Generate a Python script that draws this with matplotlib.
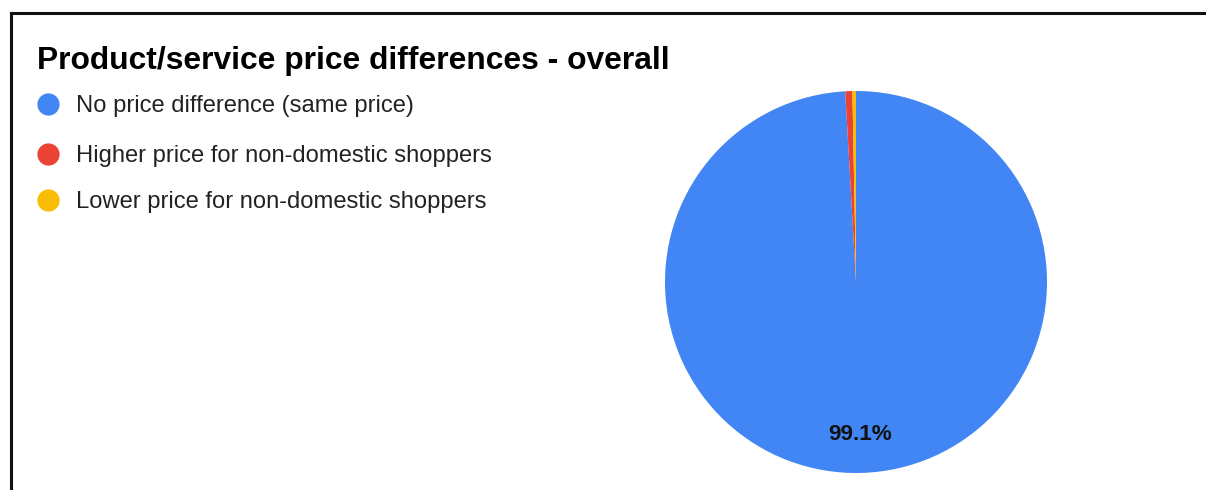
import matplotlib
matplotlib.use("Agg")
import matplotlib.pyplot as plt
from matplotlib.lines import Line2D

plt.rcParams['font.family'] = ['Liberation Sans', 'DejaVu Sans']

title = "Product/service price differences - overall"
categories = ["No price difference (same price)",
              "Higher price for non-domestic shoppers",
              "Lower price for non-domestic shoppers"]
values = [99.1, 0.6, 0.3]
colors = ["#4285F4", "#EA4335", "#FBBC04"]

W, H = 1206, 490
fig = plt.figure(figsize=(W / 100, H / 100), dpi=100)
fig.patch.set_facecolor("white")

# border (top and left)
fig.add_artist(Line2D([11 / W, 1], [1 - 13 / H, 1 - 13 / H], color="#111111", lw=2.2,
                      transform=fig.transFigure))
fig.add_artist(Line2D([11 / W, 11 / W], [1 - 13 / H, 0], color="#111111", lw=2.2,
                      transform=fig.transFigure))

fig.text(37 / W, 1 - 61 / H, title, fontsize=22.9, fontweight="bold", va="center", ha="left")

legend_y = [104, 154, 200]
for lab, col, y in zip(categories, colors, legend_y):
    fig.add_artist(Line2D([48 / W], [1 - y / H], marker="o", markersize=16, color=col,
                          markeredgewidth=0, transform=fig.transFigure))
    fig.text(76 / W, 1 - (y + 2) / H, lab, fontsize=17.1, va="center", ha="left", color="#222222")

cx, cy, r = 856, 282, 191
ax = fig.add_axes([(cx - r) / W, (H - cy - r) / H, 2 * r / W, 2 * r / H])


def fmt(p):
    return f"{p:.1f}%" if p > 5 else ""


wedges, texts, autotexts = ax.pie(values, colors=colors, startangle=90, counterclock=False,
                                  autopct=fmt, pctdistance=0.80, radius=1,
                                  wedgeprops=dict(linewidth=0))
for t in autotexts:
    t.set_fontsize(16.2)
    t.set_fontweight("bold")
    t.set_color("#111111")
ax.set_xlim(-1, 1)
ax.set_ylim(-1, 1)
ax.set_aspect("equal")
ax.axis("off")

fig.savefig("out.png", dpi=100)
